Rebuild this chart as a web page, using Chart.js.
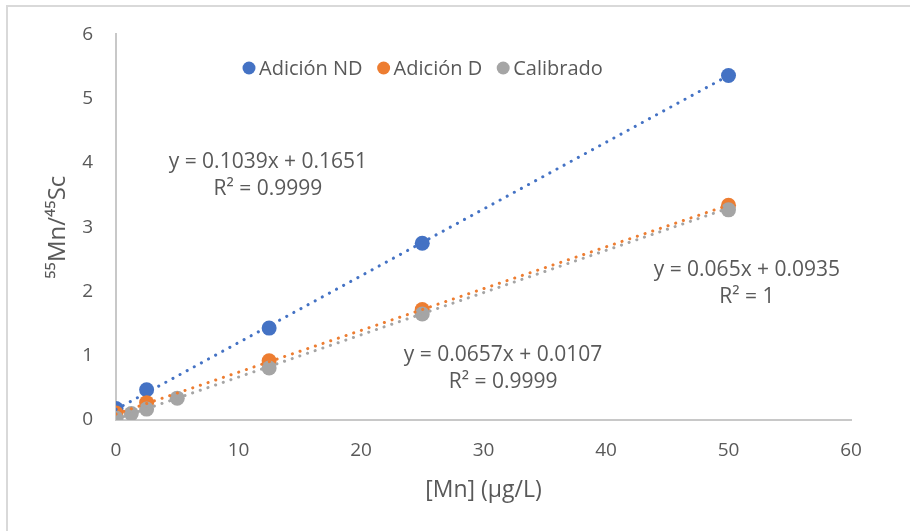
<!DOCTYPE html>
<html>
<head>
<meta charset="utf-8">
<title>Mn calibration</title>
<script src="https://cdn.jsdelivr.net/npm/chart.js@4.4.1/dist/chart.umd.min.js"></script>
<style>
  html, body { margin: 0; padding: 0; background: #fff; overflow: hidden; }
  #wrap { position: relative; width: 910px; height: 531px; }
  #frame { position: absolute; left: 6px; top: 5px; width: 930px; height: 550px;
           border: 2px solid #d9d9d9; box-sizing: border-box; }
  #chart { position: absolute; left: 0; top: 0; }
</style>
</head>
<body>
<div id="wrap">
  <div id="frame"></div>
  <canvas id="chart" width="910" height="531"></canvas>
</div>
<script>
(function(){
    "use strict";

    // measured points for each series
    const seriesNames = ['Adición ND', 'Adición D', 'Calibrado'];
    const seriesColors = ['#4472c4', '#ed7d31', '#a5a5a5'];

    const xND = [0, 2.5, 12.5, 25, 50];
    const yND = [0.18, 0.47, 1.43, 2.75, 5.36];

    const xD = [0, 2.5, 12.5, 25, 50];
    const yD = [0.11, 0.27, 0.92, 1.72, 3.34];

    const xCal = [0, 1.25, 2.5, 5, 12.5, 25, 50];
    const yCal = [0.03, 0.10, 0.17, 0.34, 0.81, 1.65, 3.27];

    // linear fits (same order as the series)
    const slopes = [0.1039, 0.065, 0.0657];
    const intercepts = [0.1651, 0.0935, 0.0107];
    const rSquared = ['0.9999', '1', '0.9999'];
    const fitRange = [0, 50];

    const xTicks = [0, 10, 20, 30, 40, 50, 60];
    const yTicks = [0, 1, 2, 3, 4, 5, 6];

    // where each fit equation sits, in axis units
    const eqAnchor = [[12.4, 4.01], [51.5, 2.33], [31.6, 1.01]];

    const textColor = '#595959';
    const fontFamily = '"Open Sans", "Noto Sans", sans-serif';

    function toPoints(xs, ys) {
        return xs.map((x, i) => ({ x: x, y: ys[i] }));
    }

    const pointSets = [toPoints(xND, yND), toPoints(xD, yD), toPoints(xCal, yCal)];

    const datasets = [];
    pointSets.forEach(function(pts, i){
        datasets.push({
            label: seriesNames[i],
            data: pts,
            backgroundColor: seriesColors[i],
            borderWidth: 0,
            pointRadius: 7.5,
            pointHoverRadius: 7.5,
            showLine: false,
            order: 6 - i
        });
    });

    // dotted trendlines from the fitted coefficients
    slopes.forEach(function(m, i){
        datasets.push({
            label: 'fit ' + seriesNames[i],
            data: fitRange.map(x => ({ x: x, y: m * x + intercepts[i] })),
            showLine: true,
            borderColor: seriesColors[i],
            borderWidth: 3,
            borderDash: [0.1, 8],
            borderCapStyle: 'round',
            pointRadius: 0,
            pointHoverRadius: 0,
            fill: false,
            order: 3 - i
        });
    });

    const seriesKey = {
        id: 'seriesKey',
        afterDraw(chart) {
            const ctx = chart.ctx;
            ctx.save();
            ctx.font = '20px ' + fontFamily;
            ctx.textBaseline = 'middle';
            let x = 243;
            const y = 68;
            seriesNames.forEach(function(name, i){
                ctx.fillStyle = seriesColors[i];
                ctx.beginPath();
                ctx.arc(x + 6, y, 6.5, 0, Math.PI * 2);
                ctx.fill();
                ctx.fillStyle = textColor;
                ctx.fillText(name, x + 16, y + 1);
                x += 16 + ctx.measureText(name).width + 15;
            });
            ctx.restore();
        }
    };

    const fitLabels = {
        id: 'fitLabels',
        afterDraw(chart) {
            const ctx = chart.ctx;
            const sx = chart.scales.x, sy = chart.scales.y;
            ctx.save();
            ctx.font = '21px ' + fontFamily;
            ctx.fillStyle = textColor;
            ctx.textAlign = 'center';
            ctx.textBaseline = 'middle';
            slopes.forEach(function(m, i){
                const px = sx.getPixelForValue(eqAnchor[i][0]);
                const py = sy.getPixelForValue(eqAnchor[i][1]);
                ctx.fillText('y = ' + m + 'x + ' + intercepts[i], px, py);
                ctx.fillText('R² = ' + rSquared[i], px, py + 27);
            });
            ctx.restore();
        }
    };

    new Chart(document.getElementById('chart'), {
        type: 'scatter',
        data: { datasets: datasets },
        options: {
            responsive: false,
            animation: false,
            events: [],
            layout: { padding: { left: 0, top: 34, right: 59, bottom: 0 } },
            plugins: {
                legend: { display: false },
                tooltip: { enabled: false }
            },
            scales: {
                x: {
                    type: 'linear',
                    min: 0,
                    max: 60,
                    afterBuildTicks: s => { s.ticks = xTicks.map(v => ({ value: v })); },
                    afterFit: s => { s.height = 111; },
                    grid: { drawOnChartArea: false, drawTicks: false, color: 'transparent' },
                    border: { display: true, color: '#c8c8c8', width: 2 },
                    ticks: { color: textColor, font: { family: fontFamily, size: 19 }, padding: 19 },
                    title: {
                        display: true,
                        text: '[Mn] (µg/L)',
                        color: textColor,
                        font: { family: fontFamily, size: 23 },
                        padding: { top: 0, bottom: 27 }
                    }
                },
                y: {
                    type: 'linear',
                    min: 0,
                    max: 6,
                    afterBuildTicks: s => { s.ticks = yTicks.map(v => ({ value: v })); },
                    afterFit: s => { s.width = 116; },
                    grid: { drawOnChartArea: false, drawTicks: false, color: 'transparent' },
                    border: { display: true, color: '#c8c8c8', width: 2 },
                    ticks: { color: textColor, font: { family: fontFamily, size: 19 }, padding: 23 },
                    title: {
                        display: true,
                        text: '⁵⁵Mn/⁴⁵Sc',
                        color: textColor,
                        font: { family: fontFamily, size: 24 },
                        padding: { top: 44, bottom: 0 }
                    }
                }
            }
        },
        plugins: [seriesKey, fitLabels]
    });
})();
</script>
</body>
</html>
